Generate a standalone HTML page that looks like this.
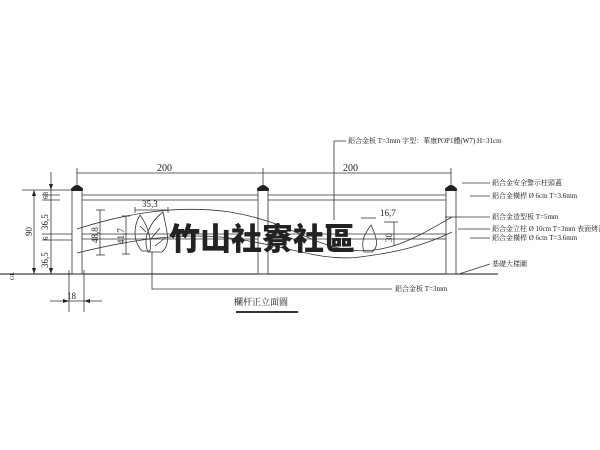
<!DOCTYPE html>
<html><head><meta charset="utf-8"><style>
html,body{margin:0;padding:0;background:#fff;width:600px;height:450px;overflow:hidden}
svg text{font-family:"Liberation Serif","Noto Serif CJK SC",serif;fill:#222}
</style></head><body>
<svg width="600" height="450" viewBox="0 0 600 450" xmlns="http://www.w3.org/2000/svg">
<g stroke="#333" stroke-width="0.8" fill="none">
<line x1="0" y1="274" x2="498" y2="274" stroke="#111" stroke-width="1"/>
<rect x="72" y="190" width="10" height="84"/>
<rect x="258" y="190" width="10" height="84"/>
<rect x="446" y="190" width="10" height="84"/>
<line x1="82" y1="195" x2="258" y2="195"/><line x1="82" y1="200" x2="258" y2="200"/>
<line x1="268" y1="195" x2="446" y2="195"/><line x1="268" y1="200" x2="446" y2="200"/>
<line x1="82" y1="234" x2="258" y2="234"/><line x1="82" y1="239" x2="258" y2="239"/>
<line x1="268" y1="234" x2="446" y2="234"/><line x1="268" y1="239" x2="446" y2="239"/>
<path d="M77 229 C130 212 180 205 230 212 C290 222 310 245 350 250 C390 255 420 235 452 217"/>
<path d="M77 253 C130 240 180 232 230 238 C290 246 320 262 360 257 C400 252 425 245 452 232"/>
<polyline points="334,220 334,141 346,141"/>
<polyline points="152,252 152,289 392,289"/>
<line x1="462" y1="183" x2="490" y2="183"/>
<line x1="470" y1="196" x2="490" y2="196"/>
<line x1="445" y1="217" x2="490" y2="217"/>
<line x1="458" y1="229" x2="490" y2="229"/>
<line x1="470" y1="238" x2="490" y2="238"/>
<line x1="459" y1="274" x2="490" y2="264"/>
<line x1="77" y1="173" x2="451" y2="173"/>
<line x1="77" y1="168" x2="77" y2="186"/><line x1="263" y1="168" x2="263" y2="186"/><line x1="451" y1="168" x2="451" y2="186"/>
<line x1="22" y1="190" x2="72" y2="190"/>
<line x1="34" y1="190" x2="34" y2="274"/>
<line x1="51" y1="172" x2="51" y2="274"/>
<line x1="42" y1="195" x2="60" y2="195"/><line x1="42" y1="200" x2="60" y2="200"/>
<line x1="42" y1="234" x2="72" y2="234"/><line x1="42" y1="240" x2="72" y2="240"/>
<line x1="96" y1="210" x2="105" y2="210"/><line x1="100" y1="210" x2="100" y2="255"/><line x1="96" y1="255" x2="105" y2="255"/>
<line x1="122" y1="216" x2="130" y2="216"/><line x1="126" y1="216" x2="126" y2="254"/><line x1="122" y1="254" x2="130" y2="254"/>
<line x1="135" y1="210" x2="168" y2="210"/><line x1="135" y1="207" x2="135" y2="213"/><line x1="168" y1="207" x2="168" y2="213"/>
<line x1="361" y1="218" x2="376" y2="218"/>
<line x1="394" y1="222" x2="394" y2="246"/><line x1="384" y1="222" x2="398" y2="222"/>
<line x1="69" y1="270" x2="69" y2="312"/><line x1="84" y1="270" x2="84" y2="312"/>
<line x1="50" y1="301" x2="102" y2="301"/>
<line x1="236" y1="312" x2="298" y2="312" stroke-width="2"/>
</g>
<g fill="#222">
<path d="M71 189 Q77 181 83 189 Z"/><rect x="71" y="188" width="12" height="3" rx="1"/>
<path d="M257 189 Q263 181 269 189 Z"/><rect x="257" y="188" width="12" height="3" rx="1"/>
<path d="M445 189 Q451 181 457 189 Z"/><rect x="445" y="188" width="12" height="3" rx="1"/>
<polygon points="34,190 32,196 36,196"/><polygon points="34,274 32,268 36,268"/>
<polygon points="51,190 49,184 53,184"/><polygon points="51,274 49,268 53,268"/>
<polygon points="69,301 63,299 63,303"/><polygon points="84,301 90,299 90,303"/>
</g>
<g stroke="#333" stroke-width="0.8" fill="none">
<path d="M142 251 C132 240 134 225 140 215 C148 226 152 240 150 251 Z"/>
<path d="M148 252 C142 238 150 222 163 212 C166 228 172 244 162 252 Z"/>
<path d="M150 240 L160 228 M146 232 L140 226 M155 246 L165 238"/>
<path d="M364 252 C360 240 366 232 371 225 C376 236 380 246 372 252 Z"/>
</g>
<text x="169" y="250" style="font-family:'Liberation Sans','Noto Sans CJK TC',sans-serif;font-weight:900" font-size="31" fill="#111">竹山社寮社區</text>
<g font-size="10">
<text x="157" y="171">200</text><text x="343" y="171">200</text>
<text x="142" y="207" font-size="9">35,3</text>
<text x="380" y="216" font-size="9">16,7</text>
<text x="234" y="305" font-size="9">欄杆正立面圖</text>
<text x="67" y="299" font-size="9">18</text>
</g>
<g font-size="9">
<text transform="translate(32,236) rotate(-90)">90</text>
<text transform="translate(48,230) rotate(-90)">36,5</text>
<text transform="translate(48,268) rotate(-90)">36,5</text>
<text transform="translate(48,199) rotate(-90)" font-size="7">68</text>
<text transform="translate(48,240) rotate(-90)" font-size="7">6</text>
<text transform="translate(98,243) rotate(-90)">48,8</text>
<text transform="translate(124,244) rotate(-90)">41,7</text>
<text transform="translate(392,242) rotate(-90)">30</text>
<text transform="translate(14,280) rotate(-90)" font-size="6">GL</text>
</g>
<g font-size="7">
<text x="348" y="143">鋁合金板 T=3mm 字型：華康POP1體(W7) H=31cm</text>
<text x="492" y="185">鋁合金安全警示柱頭蓋</text>
<text x="492" y="198">鋁合金橫桿 Ø 6cm T=3.6mm</text>
<text x="492" y="219">鋁合金造型板 T=5mm</text>
<text x="492" y="231">鋁合金立柱 Ø 10cm T=3mm 表面烤漆</text>
<text x="492" y="240">鋁合金橫桿 Ø 6cm T=3.6mm</text>
<text x="492" y="266">基礎大樣圖</text>
<text x="395" y="291">鋁合金板 T=3mm</text>
</g>
</svg>
</body></html>
